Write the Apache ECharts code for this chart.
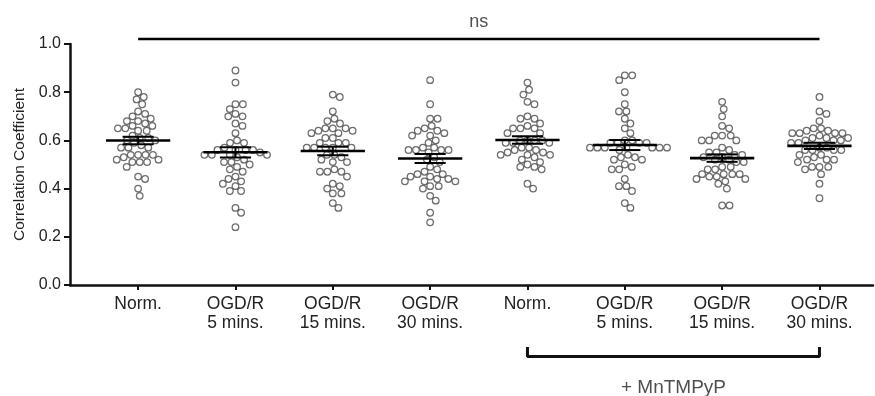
<!DOCTYPE html>
<html lang="en">

<head>
    <meta charset="utf-8">
    <title>Correlation Coefficient</title>
    <script type="text/javascript" src="https://cdn.jsdelivr.net/npm/echarts@6.0.0/dist/echarts.min.js"></script>
    <style>
        html, body { margin: 0; padding: 0; background: #fff; }
        #chart-container { width: 875px; height: 396px; }
    </style>
</head>

<body>
    <div id="chart-container"></div>

    <script>
        // categories
        const groupNames = ['Norm.', 'OGD/R\n5 mins.', 'OGD/R\n15 mins.', 'OGD/R\n30 mins.',
            'Norm.', 'OGD/R\n5 mins.', 'OGD/R\n15 mins.', 'OGD/R\n30 mins.'];

        // values, one array per group
        const normVals = [0.80, 0.78, 0.77, 0.75, 0.72, 0.71, 0.70, 0.69, 0.68, 0.68, 0.67, 0.66, 0.66, 0.65,
            0.65, 0.64, 0.64, 0.62, 0.61, 0.61, 0.60, 0.60, 0.59, 0.58, 0.57, 0.57, 0.57, 0.54, 0.54, 0.54,
            0.54, 0.53, 0.52, 0.52, 0.51, 0.51, 0.51, 0.49, 0.45, 0.44, 0.40, 0.37];
        const ogd5Vals = [0.89, 0.84, 0.75, 0.75, 0.73, 0.71, 0.70, 0.70, 0.67, 0.66, 0.63, 0.60, 0.59, 0.59,
            0.57, 0.56, 0.56, 0.56, 0.56, 0.55, 0.54, 0.54, 0.53, 0.54, 0.54, 0.52, 0.51, 0.51, 0.50, 0.49,
            0.48, 0.47, 0.45, 0.44, 0.43, 0.42, 0.41, 0.39, 0.39, 0.32, 0.30, 0.24];
        const ogd15Vals = [0.79, 0.78, 0.72, 0.69, 0.68, 0.67, 0.65, 0.65, 0.64, 0.65, 0.64, 0.63, 0.63, 0.61,
            0.61, 0.59, 0.59, 0.59, 0.57, 0.57, 0.57, 0.57, 0.57, 0.54, 0.54, 0.52, 0.53, 0.51, 0.51, 0.48,
            0.47, 0.47, 0.47, 0.45, 0.42, 0.41, 0.40, 0.38, 0.38, 0.34, 0.32];
        const ogd30Vals = [0.85, 0.75, 0.69, 0.69, 0.64, 0.64, 0.65, 0.66, 0.62, 0.63, 0.62, 0.60, 0.59, 0.57,
            0.56, 0.56, 0.56, 0.56, 0.55, 0.57, 0.53, 0.52, 0.51, 0.49, 0.48, 0.47, 0.44, 0.44, 0.45, 0.45,
            0.46, 0.46, 0.43, 0.43, 0.43, 0.41, 0.41, 0.40, 0.37, 0.35, 0.30, 0.26];
        const mnNormVals = [0.84, 0.81, 0.79, 0.76, 0.75, 0.70, 0.69, 0.69, 0.67, 0.66, 0.65, 0.65, 0.65, 0.63,
            0.63, 0.60, 0.60, 0.60, 0.60, 0.59, 0.59, 0.59, 0.57, 0.57, 0.56, 0.56, 0.55, 0.54, 0.53, 0.54,
            0.54, 0.55, 0.52, 0.51, 0.50, 0.49, 0.49, 0.48, 0.42, 0.40];
        const mn5Vals = [0.87, 0.87, 0.85, 0.80, 0.75, 0.72, 0.72, 0.69, 0.67, 0.65, 0.63, 0.60, 0.60, 0.59,
            0.59, 0.59, 0.59, 0.57, 0.57, 0.57, 0.57, 0.57, 0.57, 0.57, 0.56, 0.54, 0.53, 0.52, 0.52, 0.53,
            0.49, 0.50, 0.48, 0.48, 0.44, 0.41, 0.41, 0.39, 0.34, 0.32];
        const mn15Vals = [0.76, 0.73, 0.70, 0.66, 0.65, 0.62, 0.62, 0.62, 0.60, 0.60, 0.60, 0.57, 0.56, 0.55,
            0.55, 0.54, 0.54, 0.53, 0.53, 0.52, 0.52, 0.51, 0.51, 0.49, 0.49, 0.48, 0.48, 0.46, 0.46, 0.46,
            0.46, 0.45, 0.45, 0.44, 0.44, 0.43, 0.42, 0.40, 0.33, 0.33];
        const mn30Vals = [0.78, 0.72, 0.71, 0.68, 0.65, 0.65, 0.64, 0.63, 0.63, 0.63, 0.64, 0.63, 0.61, 0.62,
            0.61, 0.61, 0.60, 0.59, 0.60, 0.60, 0.59, 0.57, 0.57, 0.56, 0.56, 0.56, 0.56, 0.53, 0.54, 0.54,
            0.52, 0.52, 0.52, 0.51, 0.49, 0.49, 0.49, 0.48, 0.46, 0.42, 0.36];

        const allGroups = [normVals, ogd5Vals, ogd15Vals, ogd30Vals, mnNormVals, mn5Vals, mn15Vals, mn30Vals];

        // annotations
        const nsGroups = [0, 7];
        const nsLevel = 1.021;
        const bracketGroups = [4, 7];
        const bracketTop = -0.257;
        const bracketBottom = -0.297;

        const FONT = '"Liberation Sans", Arial, sans-serif';
        const chart = echarts.init(document.getElementById('chart-container'), null, { renderer: 'canvas' });

        function mean(a) { return a.reduce((s, v) => s + v, 0) / a.length; }
        function sem(a) {
            const m = mean(a);
            const sd = Math.sqrt(a.reduce((s, v) => s + (v - m) * (v - m), 0) / (a.length - 1));
            return sd / Math.sqrt(a.length);
        }

        const baseOption = {
            animation: false,
            grid: { left: 70, right: 2, top: 44, bottom: 111 },
            xAxis: {
                type: 'value',
                min: -0.7,
                max: 7.55,
                splitLine: { show: false },
                axisLine: { show: true, onZero: false, lineStyle: { color: '#111', width: 2.5 } },
                axisTick: { show: true, customValues: [0, 1, 2, 3, 4, 5, 6, 7], length: 5, lineStyle: { color: '#111', width: 2 } },
                axisLabel: {
                    show: true,
                    customValues: [0, 1, 2, 3, 4, 5, 6, 7],
                    formatter: v => groupNames[Math.round(v)],
                    fontFamily: FONT, fontSize: 17.5, lineHeight: 19.5, color: '#222', margin: 9
                }
            },
            yAxis: {
                type: 'value',
                min: 0,
                max: 1,
                interval: 0.2,
                name: 'Correlation Coefficient',
                nameLocation: 'middle',
                nameRotate: 90,
                nameGap: 40,
                nameTextStyle: { fontFamily: FONT, fontSize: 15.5, color: '#222' },
                splitLine: { show: false },
                axisLine: { show: true, onZero: false, lineStyle: { color: '#111', width: 2.5 } },
                axisTick: { show: true, length: 6, lineStyle: { color: '#111', width: 2 } },
                axisLabel: { formatter: v => v.toFixed(1), fontFamily: FONT, fontSize: 16, color: '#222', margin: 9 }
            },
            series: []
        };
        chart.setOption(baseOption);

        // pixel scale from the axes, to lay the dots out as a swarm
        const p0 = chart.convertToPixel({ gridIndex: 0 }, [0, 0]);
        const p1 = chart.convertToPixel({ gridIndex: 0 }, [1, 1]);
        const pxPerX = p1[0] - p0[0];
        const pxPerY = p0[1] - p1[1];
        const DIAM = 7.4;

        function swarm(vals) {
            const order = vals.map((v, i) => i).sort((a, b) => vals[b] - vals[a]);
            const placed = [];
            const offs = new Array(vals.length);
            order.forEach(i => {
                const y = vals[i] * pxPerY;
                const cands = [0];
                placed.forEach(p => {
                    const dy = Math.abs(p.y - y);
                    if (dy < DIAM) {
                        const dx = Math.sqrt(DIAM * DIAM - dy * dy);
                        cands.push(p.x + dx, p.x - dx);
                    }
                });
                cands.sort((a, b) => Math.abs(a) - Math.abs(b));
                let x = 0;
                for (const c of cands) {
                    const ok = placed.every(p => (p.x - c) * (p.x - c) + (p.y - y) * (p.y - y) >= DIAM * DIAM - 0.01);
                    if (ok) { x = c; break; }
                }
                placed.push({ x: x, y: y });
                offs[i] = x / pxPerX;
            });
            return offs;
        }

        const dotData = [];
        const barData = [];
        allGroups.forEach((vals, g) => {
            const offs = swarm(vals);
            vals.forEach((v, i) => dotData.push([g + offs[i], v]));
            barData.push([g, mean(vals), sem(vals)]);
        });

        chart.setOption({
            series: [
                {
                    type: 'scatter',
                    data: dotData,
                    symbol: 'circle',
                    symbolSize: 6.6,
                    itemStyle: { color: '#fff', borderColor: '#4a4a4a', borderWidth: 1.25 },
                    z: 2
                },
                {
                    type: 'custom',
                    data: barData,
                    z: 3,
                    renderItem: function (params, api) {
                        const g = api.value(0), m = api.value(1), s = api.value(2);
                        const a = api.coord([g - 0.33, m]), b = api.coord([g + 0.33, m]);
                        const t1 = api.coord([g - 0.16, m + s]), t2 = api.coord([g + 0.16, m + s]);
                        const b1 = api.coord([g - 0.16, m - s]), b2 = api.coord([g + 0.16, m - s]);
                        const ct = api.coord([g, m + s]), cb = api.coord([g, m - s]);
                        const st = { stroke: '#000', lineWidth: 2 };
                        return {
                            type: 'group',
                            children: [
                                { type: 'line', shape: { x1: a[0], y1: a[1], x2: b[0], y2: b[1] }, style: { stroke: '#000', lineWidth: 2.6 } },
                                { type: 'line', shape: { x1: ct[0], y1: ct[1], x2: cb[0], y2: cb[1] }, style: st },
                                { type: 'line', shape: { x1: t1[0], y1: t1[1], x2: t2[0], y2: t2[1] }, style: st },
                                { type: 'line', shape: { x1: b1[0], y1: b1[1], x2: b2[0], y2: b2[1] }, style: st }
                            ]
                        };
                    }
                },
                {
                    type: 'line',
                    data: [[nsGroups[0], nsLevel], [nsGroups[1], nsLevel]],
                    symbol: 'none',
                    clip: false,
                    lineStyle: { color: '#000', width: 2.4 }
                },
                {
                    type: 'line',
                    data: [[bracketGroups[0], bracketTop], [bracketGroups[0], bracketBottom],
                        [bracketGroups[1], bracketBottom], [bracketGroups[1], bracketTop]],
                    symbol: 'none',
                    clip: false,
                    lineStyle: { color: '#111', width: 3 }
                },
                {
                    type: 'scatter',
                    clip: false,
                    symbolSize: 0,
                    data: [
                        { value: [(nsGroups[0] + nsGroups[1]) / 2, 1.091], label: { formatter: 'ns', fontSize: 18 } },
                        { value: [(bracketGroups[0] + bracketGroups[1]) / 2, -0.427], label: { formatter: '+ MnTMPyP', fontSize: 19 } }
                    ],
                    label: { show: true, position: 'inside', color: '#222', fontFamily: FONT }
                }
            ]
        });
    </script>
</body>

</html>
